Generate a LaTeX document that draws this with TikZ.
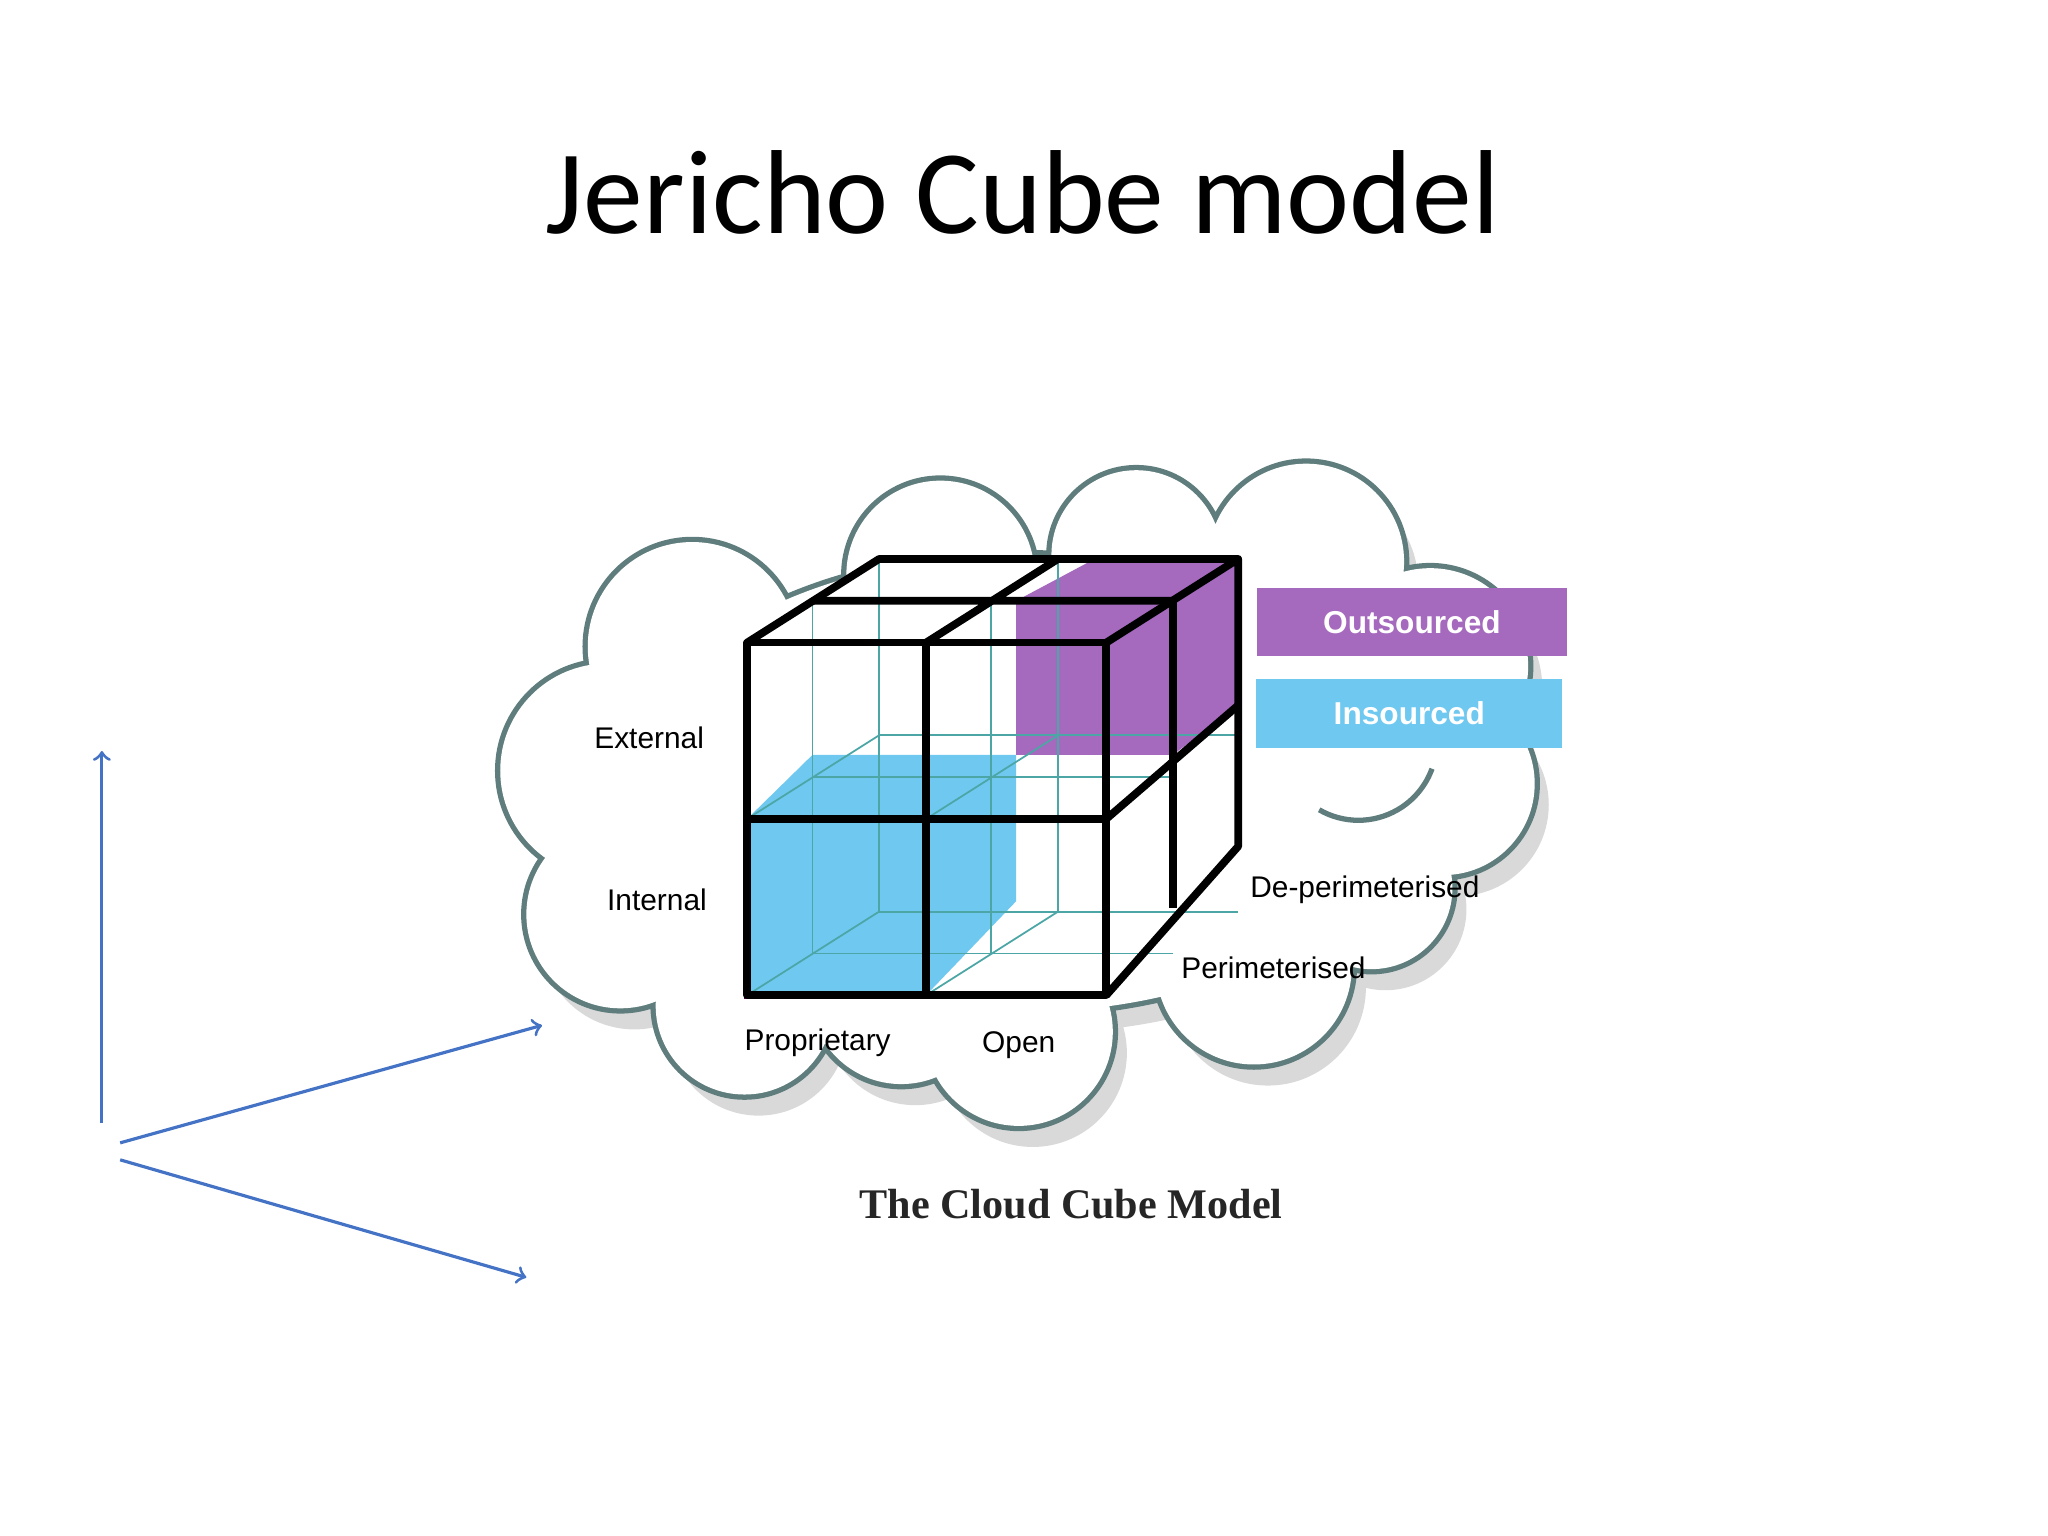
\documentclass[tikz,border=0pt]{standalone}
\usepackage{fontspec}
\setmainfont{Liberation Sans}
\newfontfamily\titlefont{Carlito}
\newfontfamily\capfont{Liberation Serif}
\definecolor{axcol}{RGB}{68,114,196}
\definecolor{cloudcol}{RGB}{95,125,125}
\definecolor{purp}{RGB}{165,105,190}
\definecolor{sky}{RGB}{110,200,240}
\begin{document}
\begin{tikzpicture}[x=0.013061cm,y=-0.013061cm,
  lbl/.style={font=\fontsize{8.5}{10}\selectfont},
  thin grid/.style={draw=teal!70,line width=0.5pt},
  edge/.style={line width=2.2pt,line join=round},
  ax/.style={draw=axcol,line width=0.9pt,->}]
\useasboundingbox (0,0) rectangle (1568,1176);
\node[font=\titlefont\fontsize{34}{40}\selectfont] (title) at (783,147) {Jericho Cube model};
% cloud
\def\cloudcircles{(530,495) circle (80) (720,440) circle (72) (870,425) circle (65) (1000,430) circle (75) (1095,510) circle (75) (1105,600) circle (70) (465,590) circle (82) (475,700) circle (72) (570,770) circle (68) (780,790) circle (72) (960,740) circle (75) (1050,680) circle (62) (690,760) circle (70) (780,600) ellipse (300 and 175)}
\fill[gray!30] [xshift=4,yshift=-6] \cloudcircles;
\draw[draw=cloudcol,line width=3pt] \cloudcircles;
\fill[white] \cloudcircles;
\draw[cloudcol,line width=1.5pt] (1010,620) arc (120:20:60);
% fills
\fill[sky] (572,627)--(622,578)--(778,578)--(778,690)--(709,762)--(572,762)--cycle;
\fill[purp] (778,460)--(838,428)--(948,428)--(948,540)--(898,578)--(778,578)--cycle;
% hidden grid
\draw[thin grid] (622,460)--(622,730)--(898,730) (759,460)--(759,730) (622,595)--(898,595);
\draw[thin grid] (673,428)--(673,698)--(948,698) (810,428)--(810,698) (673,563)--(948,563);
\draw[thin grid] (572,762)--(673,698) (709,762)--(810,698) (572,627)--(673,563) (709,627)--(810,563);
\draw[violet!70!black,line width=2pt] (572,627) rectangle (709,762);
% visible edges
\draw[edge] (572,492) rectangle (847,762) (709,492)--(709,762) (572,627)--(847,627);
\draw[edge] (572,492)--(673,428)--(948,428)--(847,492) (948,428)--(948,648)--(847,762);
\draw[edge] (709,492)--(810,428) (622,460)--(898,460) (898,460)--(898,695) (847,627)--(948,540);
% legend
\node[fill=purp,minimum width=88pt,minimum height=19.3pt,inner sep=0,text=white,font=\bfseries\fontsize{9}{10}\selectfont] (out) at (1081,476) {Outsourced};
\node[fill=sky,minimum width=87pt,minimum height=19.6pt,inner sep=0,text=white,font=\bfseries\fontsize{9}{10}\selectfont] (ins) at (1079,546) {Insourced};
% labels
\node[lbl] (ext) at (497,565) {External};
\node[lbl] (int) at (503,689) {Internal};
\node[lbl] (prop) at (626,798) {Proprietary};
\node[lbl] (open) at (780,800) {Open};
\node[lbl] (dep) at (1045,681) {De-perimeterised};
\node[lbl] (per) at (975,741) {Perimeterised};
\node[font=\capfont\bfseries\fontsize{12}{14}\selectfont,text=black!85] (cap) at (820,922) {The Cloud Cube Model};
% axes
\coordinate (o1) at (78,860); \coordinate (e1) at (78,575);
\coordinate (o2) at (92,875); \coordinate (e2) at (415,785);
\coordinate (o3) at (92,888); \coordinate (e3) at (403,978);
\draw[ax] (o1)--(e1); \draw[ax] (o2)--(e2); \draw[ax] (o3)--(e3);
\end{tikzpicture}
\end{document}
